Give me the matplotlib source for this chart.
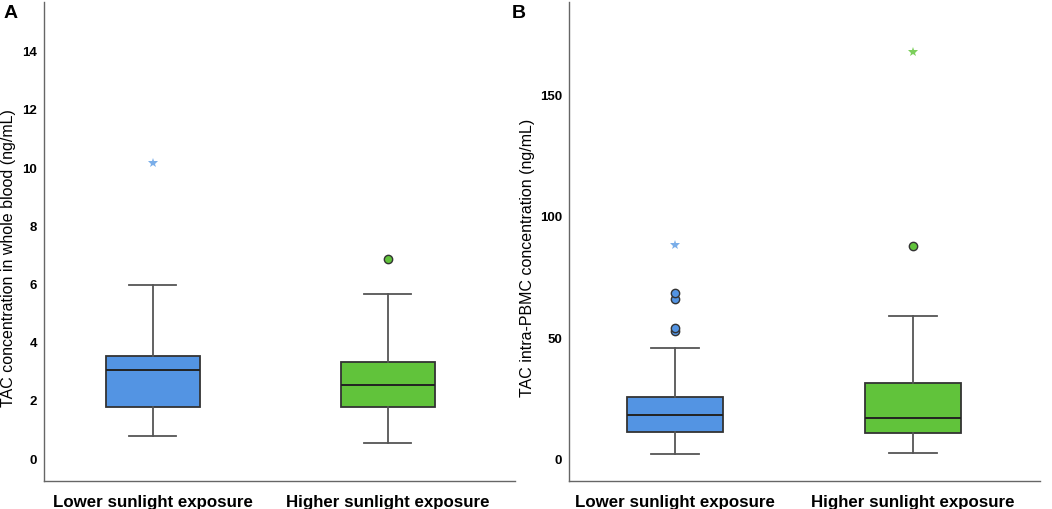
import matplotlib.pyplot as plt

plt.rcParams['font.family'] = ['Liberation Sans', 'DejaVu Sans']

groups = ['Lower sunlight exposure', 'Higher sunlight exposure']
box_colors = ['#5394e3', '#61c33b']
star_colors = ['#7aaee9', '#7ccf5c']

# Panel A: TAC in whole blood (ng/mL)
a_whislo = [0.78, 0.56]
a_q1 = [1.79, 1.79]
a_med = [3.07, 2.56]
a_q3 = [3.56, 3.35]
a_whishi = [5.97, 5.67]
a_circles = [[], [6.86]]
a_stars = [[10.16], []]

# Panel B: TAC intra-PBMC (ng/mL)
b_whislo = [2.2, 2.5]
b_q1 = [11.4, 10.9]
b_med = [18.3, 16.9]
b_q3 = [25.8, 31.3]
b_whishi = [46.0, 59.0]
b_circles = [[52.9, 54.3, 66.1, 68.5], [88.1]]
b_stars = [[88.4], [168.2]]


def draw_panel(ax, whislo, q1, med, q3, whishi, circles, stars,
               ylim, yticks, ylabel, xlim, label_x):
    stats = []
    for i in range(2):
        stats.append({'whislo': whislo[i], 'q1': q1[i], 'med': med[i],
                      'q3': q3[i], 'whishi': whishi[i], 'fliers': []})
    bp = ax.bxp(stats, positions=[1, 2], widths=0.4, patch_artist=True,
                showfliers=False, capwidths=0.2,
                medianprops=dict(color='#222222', lw=1.4),
                whiskerprops=dict(color='#555555', lw=1.3),
                capprops=dict(color='#555555', lw=1.3),
                boxprops=dict(edgecolor='#333333', lw=1.3))
    for patch, c in zip(bp['boxes'], box_colors):
        patch.set_facecolor(c)
    for i in range(2):
        if circles[i]:
            ax.plot([i + 1] * len(circles[i]), circles[i], 'o', ms=6,
                    mfc=box_colors[i], mec='#333333', mew=1.0, zorder=3)
        if stars[i]:
            ax.plot([i + 1] * len(stars[i]), stars[i], '*', ms=7.5,
                    color=star_colors[i], mew=0, zorder=3)
    ax.set_xlim(*xlim)
    ax.set_ylim(*ylim)
    ax.set_yticks(yticks)
    ax.set_xticks([1, 2])
    ax.set_xticklabels(groups, fontsize=12.2, fontweight='bold')
    for lab in ax.get_yticklabels():
        lab.set_fontweight('bold')
        lab.set_fontsize(9.5)
    ax.tick_params(axis='y', length=0, pad=5)
    ax.tick_params(axis='x', length=0, pad=10)
    ax.set_ylabel(ylabel, fontsize=11.5)
    ax.yaxis.set_label_coords(label_x, 0.466)
    for s in ['top', 'right']:
        ax.spines[s].set_visible(False)
    for s in ['left', 'bottom']:
        ax.spines[s].set_color('#666666')
        ax.spines[s].set_linewidth(1.0)


fig = plt.figure(figsize=(10.52, 5.09), dpi=100)
ax1 = fig.add_axes([0.0418, 0.055, 0.4477, 0.941])
ax2 = fig.add_axes([0.541, 0.055, 0.448, 0.941])

draw_panel(ax1, a_whislo, a_q1, a_med, a_q3, a_whishi, a_circles, a_stars,
           (-0.75, 15.7), [0, 2, 4, 6, 8, 10, 12, 14],
           'TAC concentration in whole blood (ng/mL)', (0.537, 2.54), -0.059)
draw_panel(ax2, b_whislo, b_q1, b_med, b_q3, b_whishi, b_circles, b_stars,
           (-8.95, 188.7), [0, 50, 100, 150],
           'TAC intra-PBMC concentration (ng/mL)', (0.555, 2.535), -0.073)

fig.text(0.003, 0.99, 'A', fontsize=14, fontweight='bold', va='top')
fig.text(0.486, 0.99, 'B', fontsize=14, fontweight='bold', va='top')

fig.savefig('out.png', dpi=100)
